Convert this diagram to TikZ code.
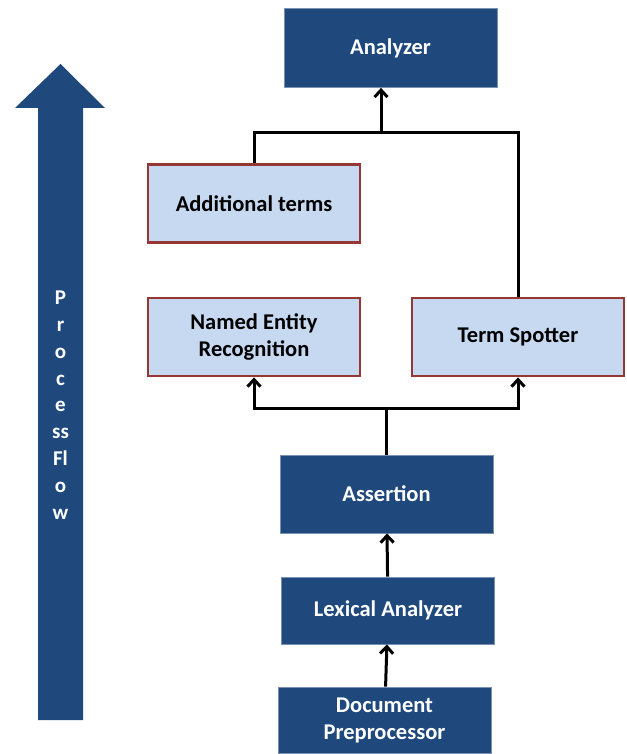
\documentclass[tikz,border=0pt]{standalone}
\usepackage{fontspec}
\setmainfont{Carlito}
\usetikzlibrary{arrows.meta, positioning}
\definecolor{FlowBlue}{RGB}{31,73,125}
\definecolor{PaleBlue}{RGB}{198,217,241}
\definecolor{BrickRed}{RGB}{149,55,53}

\begin{document}
\begin{tikzpicture}[x=1pt, y=-1pt,
          darkbox/.style={rectangle, draw=FlowBlue!60!white, line width=0.8pt, fill=FlowBlue, text=white, minimum width=213pt, align=center, font=\fontsize{22.5}{27}\selectfont\bfseries},
          lightbox/.style={rectangle, draw=BrickRed, line width=2.8pt, fill=PaleBlue, text=black, minimum width=212pt, minimum height=78pt, align=center, font=\fontsize{22.5}{27}\selectfont\bfseries},
          link/.style={line width=3pt, black},
          arrow/.style={link, -{Straight Barb[length=7pt, width=13pt, line width=3pt]}}
        ]
          \useasboundingbox (0,0) rectangle (626,754);

          % process flow arrow on the left
          \fill[FlowBlue] (38,720) -- (38,108) -- (15,108) -- (60.5,64) -- (105,108) -- (83,108) -- (83,720) -- cycle;
          \node (flow) [text=white, align=center, font=\fontsize{21}{26.8}\selectfont\bfseries] at (60.5,405) {P\\r\\o\\c\\e\\ss\\Fl\\o\\w};

          \node (analyzer) [darkbox, minimum height=79pt] at (390.5,48) {Analyzer};
          \node (addterms) [lightbox] at (254,203.5) {Additional terms};
          \node (ner) [lightbox] at (254,337) {Named Entity\\Recognition};
          \node (spotter) [lightbox] at (518,337) {Term Spotter};
          \node (assertion) [darkbox, minimum height=78pt] at (386.5,494) {Assertion};
          \node (lexical) [darkbox, minimum height=67pt] at (388,610.5) {Lexical Analyzer};
          \node (docpre) [darkbox, minimum height=66pt] at (384.5,720) {Document\\Preprocessor};

          \coordinate (join) at (381,133);
          \coordinate (split) at (386.5,408);

          \draw [link] (addterms.north) |- (join) -| (spotter.north);
          \draw [arrow] (join) -- (join |- analyzer.south);
          \draw [link] (assertion.north) -- (split);
          \draw [arrow] (split) -| (ner.south);
          \draw [arrow] (split) -| (spotter.south);
          \draw [arrow] (lexical) -- (assertion);
          \draw [arrow] (docpre) -- (lexical);
        \end{tikzpicture}
\end{document}
